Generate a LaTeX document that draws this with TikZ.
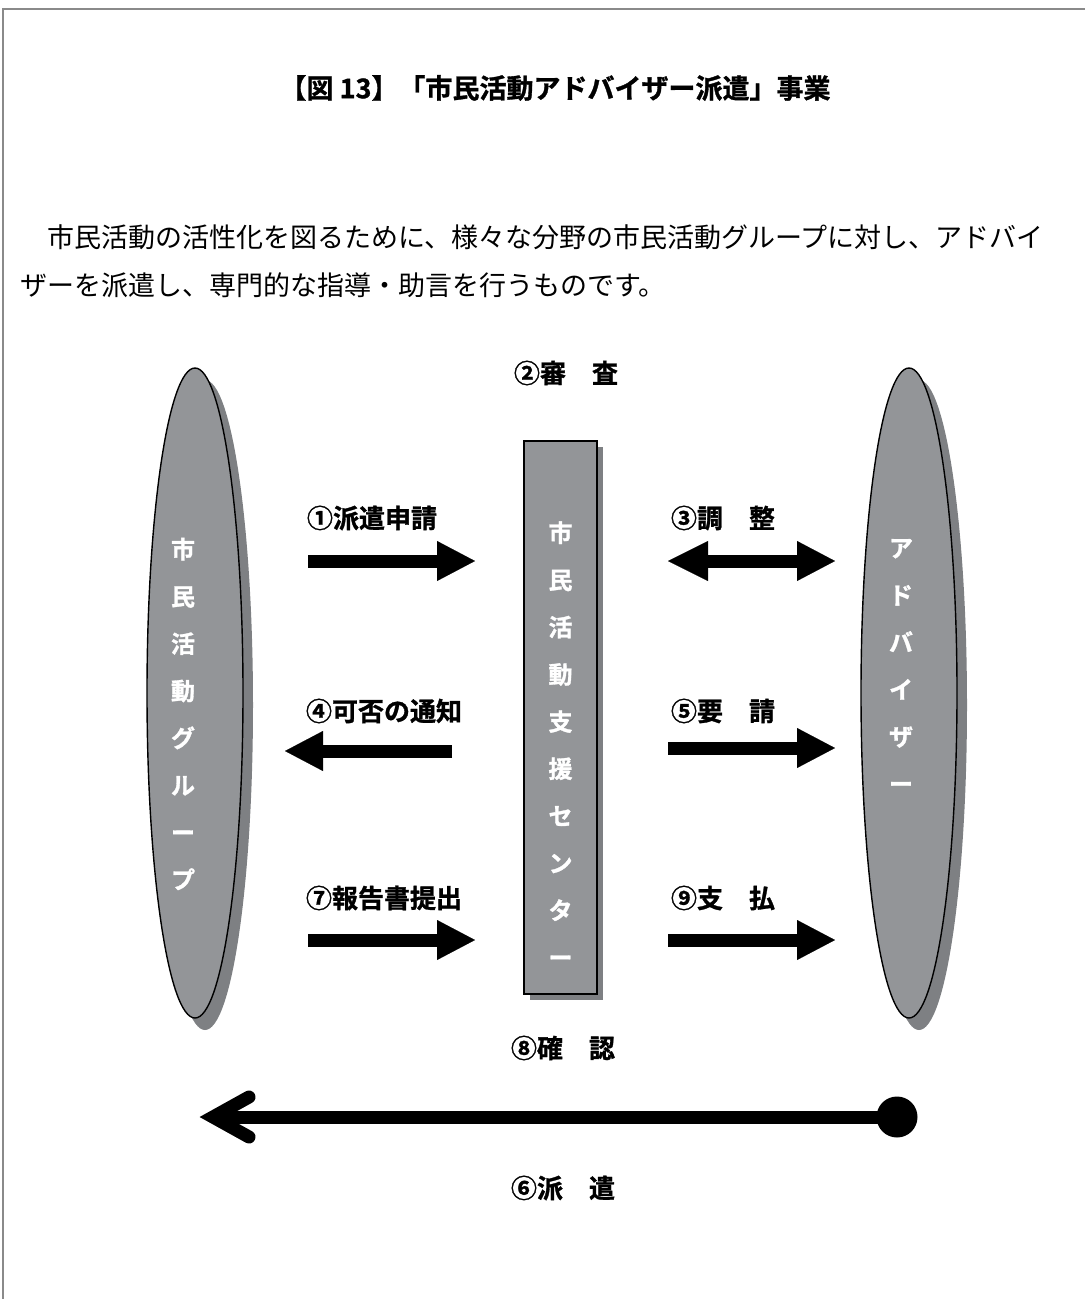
\documentclass[tikz,border=0pt]{standalone}
\usepackage{fontspec}
\usetikzlibrary{shapes.geometric,shadows,arrows.meta}
\newfontfamily\jp{Noto Sans CJK JP}
\newfontfamily\jph[FakeBold=1.2]{Noto Sans CJK JP Bold}
\definecolor{fillgray}{HTML}{939598}
\definecolor{shadowgray}{HTML}{7E8083}
\definecolor{framegray}{HTML}{8A8A8A}
\tikzset{
  titletext/.style={font={\jph\fontsize{27pt}{30pt}\selectfont}, inner sep=0pt},
  bodytext/.style={font={\jp\fontsize{27pt}{30pt}\selectfont}, inner sep=0pt, anchor=west},
  label/.style={font={\jph\fontsize{26pt}{30pt}\selectfont}, inner sep=0pt},
  vtext/.style={font={\jph\fontsize{24pt}{47.2pt}\selectfont}, text=white, align=center, inner sep=0pt},
  party/.style={ellipse, draw=black, line width=1.4pt, fill=fillgray, minimum width=96pt, minimum height=650pt, inner sep=0pt,
    drop shadow={shadow xshift=10pt, shadow yshift=-12pt, fill=shadowgray, opacity=1}},
  center/.style={rectangle, draw=black, line width=2pt, fill=fillgray, minimum width=73pt, minimum height=553pt, inner sep=0pt,
    drop shadow={shadow xshift=6pt, shadow yshift=-6pt, fill=shadowgray, opacity=1}},
  blockarrow/.style={line width=13pt, -{Triangle[length=38pt,width=40pt,line width=0.1pt]}},
  blockdouble/.style={line width=13pt, {Triangle[length=40pt,width=40pt,line width=0.1pt]}-{Triangle[length=38pt,width=40pt,line width=0.1pt]}},
}
\begin{document}
\begin{tikzpicture}[x=1pt,y=-1pt]
\useasboundingbox (0,0) rectangle (1085,1299);
% frame
\draw[framegray, line width=1.5pt] (3,1299) -- (3,9) -- (1085,9);

% title and text
\node[titletext] (title) at (555,88) {【図 13】「市民活動アドバイザー派遣」事業};
\node[bodytext] (body1) at (20,237) {　市民活動の活性化を図るために、様々な分野の市民活動グループに対し、アドバイ};
\node[bodytext] (body2) at (20,285) {ザーを派遣し、専門的な指導・助言を行うものです。};

% main shapes
\node[party] (group) at (195,693) {};
\node[party] (adv) at (909,693) {};
\node[center] (ctr) at (560.5,717.5) {};

\node[vtext] (grouptext) at (183,714) {市\\民\\活\\動\\グ\\ル\\ー\\プ};
\node[vtext] (advtext) at (901,666) {ア\\ド\\バ\\イ\\ザ\\ー};
\node[vtext] (ctrtext) at (560.5,744) {市\\民\\活\\動\\支\\援\\セ\\ン\\タ\\ー};

% labels
\node[label] (l2) at (566,373) {②審　査};
\node[label] (l1) at (372,518) {①派遣申請};
\node[label] (l3) at (723,518) {③調　整};
\node[label] (l4) at (384,711) {④可否の通知};
\node[label] (l5) at (723,711) {⑤要　請};
\node[label] (l7) at (384,898) {⑦報告書提出};
\node[label] (l9) at (723,898) {⑨支　払};
\node[label] (l8) at (563,1048) {⑧確　認};
\node[label] (l6) at (563,1188) {⑥派　遣};

% block arrows
\coordinate (a1s) at (308,561); \coordinate (a1e) at (475,561);
\coordinate (a3s) at (668,561); \coordinate (a3e) at (835,561);
\coordinate (a4s) at (452,751); \coordinate (a4e) at (285,751);
\coordinate (a5s) at (668,748); \coordinate (a5e) at (835,748);
\coordinate (a7s) at (308,940); \coordinate (a7e) at (475,940);
\coordinate (a9s) at (668,940); \coordinate (a9e) at (835,940);
\draw[blockarrow] (a1s) -- (a1e);
\draw[blockdouble] (a3s) -- (a3e);
\draw[blockarrow] (a4s) -- (a4e);
\draw[blockarrow] (a5s) -- (a5e);
\draw[blockarrow] (a7s) -- (a7e);
\draw[blockarrow] (a9s) -- (a9e);

% dispatch arrow
\node[circle, fill=black, inner sep=0pt, minimum size=41pt] (dot) at (897,1117) {};
\coordinate (tip) at (213,1117);
\coordinate (armu) at (249,1097);
\coordinate (armd) at (249,1137);
\draw[line width=13pt] (dot.center) -- (tip);
\draw[line width=13pt, line cap=round, line join=miter] (armu) -- (tip) -- (armd);
\end{tikzpicture}
\end{document}
